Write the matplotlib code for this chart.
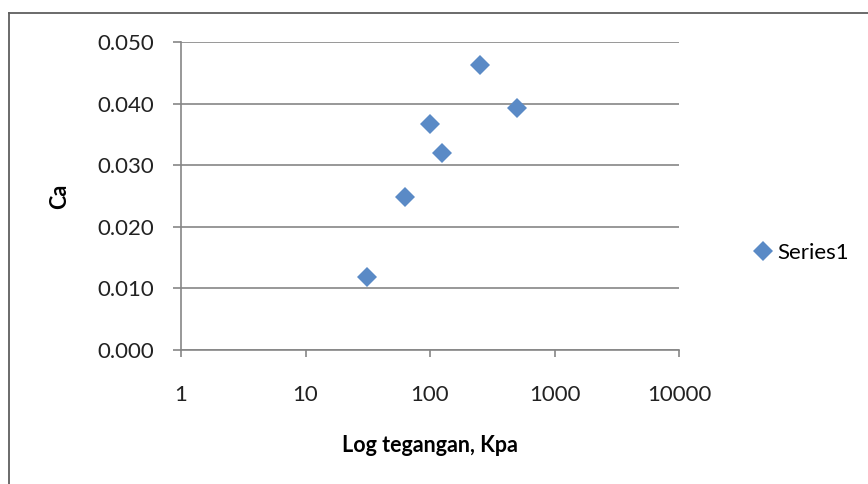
import numpy as np
import matplotlib.pyplot as plt
from matplotlib.lines import Line2D

# Data: tegangan (kPa) vs Ca
tegangan = [31.25, 62.5, 100, 125, 250, 500]
ca = [0.0118, 0.0249, 0.0367, 0.0320, 0.0463, 0.0393]
y_ticks = [0.000, 0.010, 0.020, 0.030, 0.040, 0.050]
x_ticks = [1, 10, 100, 1000, 10000]

plt.rcParams['font.family'] = ['Lato', 'DejaVu Sans']

W, H = 868, 484
fig = plt.figure(figsize=(W / 100, H / 100), dpi=100)
ax = fig.add_axes([181 / W, 1 - 350 / H, (679 - 181) / W, (350 - 42) / H])

grey = '#868686'
blue = '#5A8AC6'

ax.plot(tegangan, ca, linestyle='none', marker='D', markersize=10,
        color=blue, markeredgewidth=0, label='Series1', zorder=3)

ax.set_xscale('log')
ax.set_xlim(1, 10000)
ax.set_ylim(0, 0.05)
ax.set_xticks(x_ticks)
ax.set_xticklabels([str(v) for v in x_ticks])
ax.minorticks_off()
ax.set_yticks(y_ticks)
ax.set_yticklabels([f'{v:.3f}' for v in y_ticks])

ax.grid(axis='y', color=grey, linewidth=1.2)
ax.set_axisbelow(True)
for s in ['top', 'right']:
    ax.spines[s].set_visible(False)
for s in ['left', 'bottom']:
    ax.spines[s].set_color(grey)
    ax.spines[s].set_linewidth(1.2)

ax.tick_params(axis='y', direction='out', length=6, width=1.2, color=grey,
               pad=13, labelsize=16, labelcolor='#222222')
ax.tick_params(axis='x', direction='out', length=5, width=1.2, color=grey,
               pad=20, labelsize=16, labelcolor='#222222')

ax.set_xlabel('Log tegangan, Kpa', fontsize=15.5, fontweight='bold', labelpad=22)
ax.set_ylabel('Ca', fontsize=15.5, fontweight='bold', labelpad=20)

# legend on the right
handle = Line2D([], [], linestyle='none', marker='D', markersize=10,
                color=blue, markeredgewidth=0)
fig.legend([handle], ['Series1'], loc='center left',
           bbox_to_anchor=(756 / W, 1 - 253 / H), frameon=False,
           fontsize=16, handlelength=0.6, handletextpad=0.35,
           borderaxespad=0, borderpad=0)

# chart area border (top and left edges visible)
fig.add_artist(Line2D([9 / W, 1], [1 - 13 / H, 1 - 13 / H],
                      transform=fig.transFigure, color='#5f5f5f', linewidth=1.3))
fig.add_artist(Line2D([9 / W, 9 / W], [0, 1 - 13 / H],
                      transform=fig.transFigure, color='#5f5f5f', linewidth=1.3))

fig.savefig('out.png', dpi=100)
